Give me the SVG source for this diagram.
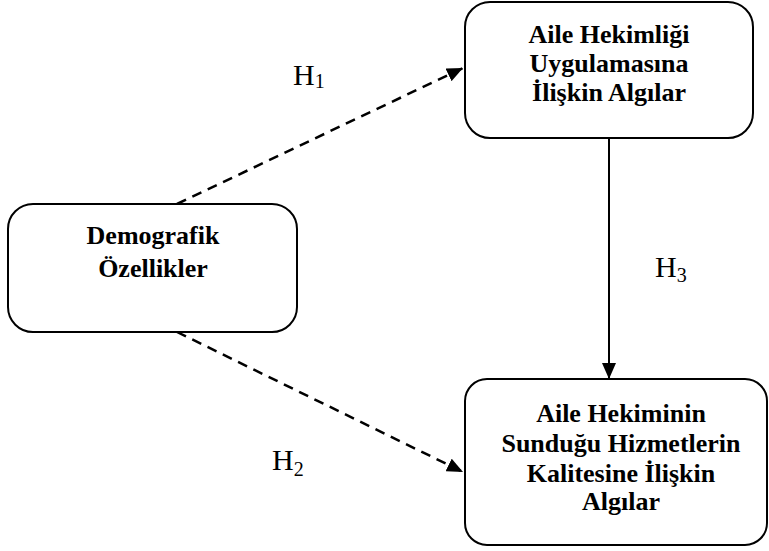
<svg xmlns="http://www.w3.org/2000/svg" width="769" height="551" viewBox="0 0 769 551">
<style>
.box{fill:#fff;stroke:#000;stroke-width:2}
.t{font-family:"Liberation Serif","Times New Roman",serif;font-weight:bold;font-size:26px;text-anchor:middle;fill:#000}
.h{font-family:"Liberation Serif","Times New Roman",serif;font-size:30px;fill:#000}
.sub{font-size:20px}
.dash{stroke:#000;stroke-width:2.5;stroke-dasharray:10 7;fill:none}
.solid{stroke:#000;stroke-width:2;fill:none}
</style>
<defs>
<marker id="ah" viewBox="0 0 16 14" refX="16" refY="7" markerWidth="16" markerHeight="14" markerUnits="userSpaceOnUse" orient="auto">
<path d="M0,0 L16,7 L0,14 Z" fill="#000"/>
</marker>
</defs>
<rect width="769" height="551" fill="#fff"/>
<g id="connectors">
<line class="dash" x1="177" y1="204" x2="463" y2="68" marker-end="url(#ah)"/>
<line class="dash" x1="177" y1="332" x2="463" y2="472" marker-end="url(#ah)"/>
<line class="solid" x1="609" y1="138" x2="609" y2="379" marker-end="url(#ah)"/>
</g>
<g id="demografik">
<rect class="box" x="8" y="204" width="289" height="128" rx="25" ry="25"/>
<text class="t" x="153" y="244">Demografik</text>
<text class="t" x="153" y="277">Özellikler</text>
</g>
<g id="aile-hekimligi">
<rect class="box" x="465" y="2" width="288" height="136" rx="25" ry="25"/>
<text class="t" x="609" y="43">Aile Hekimliği</text>
<text class="t" x="609" y="72">Uygulamasına</text>
<text class="t" x="609" y="101">İlişkin Algılar</text>
</g>
<g id="hizmet-kalitesi">
<rect class="box" x="465" y="379" width="302" height="166" rx="22" ry="22"/>
<text class="t" x="621" y="422">Aile Hekiminin</text>
<text class="t" x="621" y="452">Sunduğu Hizmetlerin</text>
<text class="t" x="621" y="482">Kalitesine İlişkin</text>
<text class="t" x="621" y="510">Algılar</text>
</g>
<g id="labels">
<text class="h" x="293" y="85">H<tspan class="sub" dy="3">1</tspan></text>
<text class="h" x="272" y="470">H<tspan class="sub" dy="6">2</tspan></text>
<text class="h" x="655" y="277">H<tspan class="sub" dy="5">3</tspan></text>
</g>
</svg>
